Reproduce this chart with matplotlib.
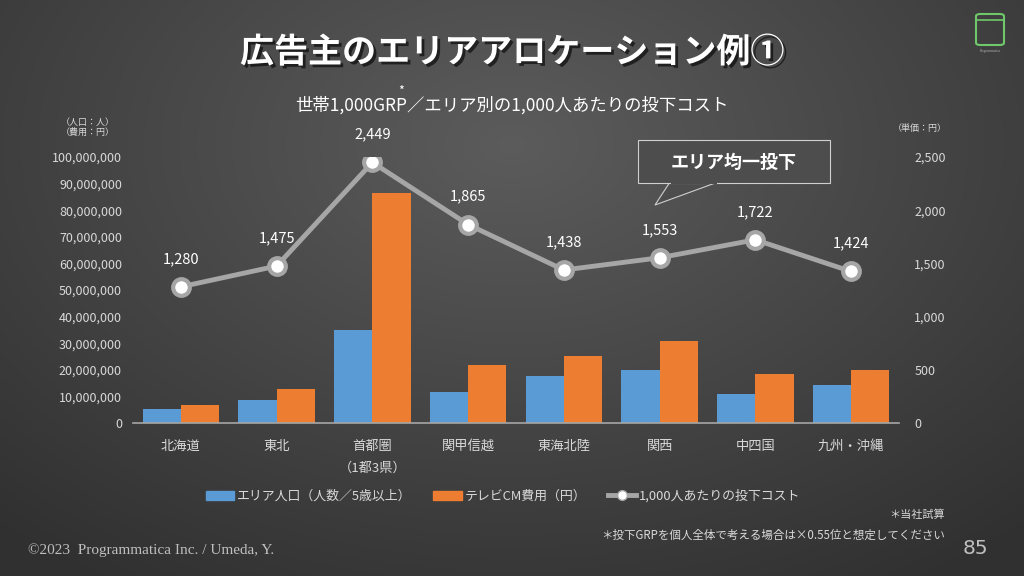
import numpy as np
import matplotlib
matplotlib.use('Agg')
import matplotlib.pyplot as plt
from matplotlib.patches import FancyBboxPatch, Polygon, Rectangle
from matplotlib.lines import Line2D
from matplotlib.patches import Patch
import matplotlib.patheffects as pe
from matplotlib.ticker import FuncFormatter

plt.rcParams['font.family'] = ['Noto Sans CJK JP', 'DejaVu Sans']

# data
areas = ['北海道', '東北', '首都圏', '関甲信越', '東海北陸', '関西', '中四国', '九州・沖縄']
population = [5300000, 8600000, 35000000, 11700000, 17700000, 20000000, 10900000, 14300000]
tv_cost = [6800000, 12800000, 86500000, 21800000, 25200000, 30800000, 18400000, 20000000]
cost_per_1000 = [1280, 1475, 2449, 1865, 1438, 1553, 1722, 1424]

blue = '#5b9bd5'
orange = '#ed7d31'
grey_line = '#a6a6a6'
txt = '#d9d9d9'

fig = plt.figure(figsize=(10.24, 5.76), dpi=100)

# background gradient
bg = fig.add_axes([0, 0, 1, 1], zorder=-10)
yy, xx = np.mgrid[0:1:200j, 0:1:360j]
r = np.sqrt(((xx - 0.5) / 0.75) ** 2 + ((yy - 0.25) / 0.9) ** 2)
shade = 0.36 - 0.17 * np.clip(r, 0, 1)
bg.imshow(np.dstack([shade] * 3), extent=[0, 1, 0, 1], aspect='auto', origin='upper')
bg.set_xlim(0, 1)
bg.set_ylim(0, 1)
bg.axis('off')

ax = fig.add_axes([133 / 1024, 153 / 576, 766 / 1024, 266 / 576])
ax.patch.set_alpha(0)
x = np.arange(len(areas))
w = 0.4
ax.bar(x - w / 2, population, w, color=blue, zorder=2)
ax.bar(x + w / 2, tv_cost, w, color=orange, zorder=2)
ax.set_xlim(-0.5, len(areas) - 0.5)
ax.set_ylim(0, 100000000)
ax.set_yticks(np.arange(0, 100000001, 10000000))
ax.yaxis.set_major_formatter(FuncFormatter(lambda v, p: f'{int(v):,}'))
for s in ['top', 'right', 'left']:
    ax.spines[s].set_visible(False)
ax.spines['bottom'].set_color(grey_line)
ax.spines['bottom'].set_linewidth(1.2)
ax.tick_params(axis='y', length=0, colors=txt, labelsize=9, pad=8)
ax.tick_params(axis='x', length=0, colors=txt, labelsize=9.5, pad=12)
ax.set_xticks(x)
ax.set_xticklabels(areas)
ax.text(2, -0.17, '（1都3県）', transform=ax.get_xaxis_transform(), ha='center', va='center',
        color=txt, fontsize=9.5)

ax2 = ax.twinx()
ax2.set_ylim(0, 2500)
ax2.set_yticks(np.arange(0, 2501, 500))
ax2.yaxis.set_major_formatter(FuncFormatter(lambda v, p: f'{int(v):,}'))
for s in ['top', 'right', 'left', 'bottom']:
    ax2.spines[s].set_visible(False)
ax2.tick_params(axis='y', length=0, colors=txt, labelsize=9, pad=11)
ax2.plot(x, cost_per_1000, color=grey_line, lw=3.5, marker='o', ms=12,
         mfc='white', mec=grey_line, mew=3, zorder=5)
for xi, v in zip(x, cost_per_1000):
    ax2.annotate(f'{v:,}', (xi, v), xytext=(0, 15), textcoords='offset points',
                 ha='center', va='bottom', color='white', fontsize=10.5)

# titles
fig.text(0.5, 1 - 52 / 576, '広告主のエリアアロケーション例①', ha='center', va='center',
         color='white', fontsize=24.5, fontweight='bold',
         path_effects=[pe.withSimplePatchShadow(offset=(2, -2), shadow_rgbFace='black', alpha=0.6)])
fig.text(0.5, 1 - 105 / 576, '世帯1,000GRP／エリア別の1,000人あたりの投下コスト', ha='center', va='center',
         color='white', fontsize=12.5)
fig.text(401 / 1024, 1 - 91 / 576, '*', ha='center', va='center', color='white', fontsize=9)

fig.text(88 / 1024, 1 - 123 / 576, '（人口：人）', ha='center', va='center', color=txt, fontsize=6.5)
fig.text(88 / 1024, 1 - 132 / 576, '（費用：円）', ha='center', va='center', color=txt, fontsize=6.5)
fig.text(920 / 1024, 1 - 128 / 576, '（単価：円）', ha='center', va='center', color=txt, fontsize=6.5)

# callout
fig.patches.append(Polygon([[670 / 1024, 1 - 182 / 576], [655 / 1024, 1 - 205 / 576], [718 / 1024, 1 - 182 / 576]],
                           closed=True, transform=fig.transFigure, facecolor='#4d4d4d',
                           edgecolor='#cfcfcf', lw=0.8, zorder=3))
fig.patches.append(Rectangle((638 / 1024, 1 - 183 / 576), 192 / 1024, 43 / 576, transform=fig.transFigure,
                             facecolor='#4d4d4d', edgecolor='#cfcfcf', lw=0.8, zorder=4))
fig.patches.append(Rectangle((671 / 1024, 1 - 184 / 576), 46 / 1024, 3 / 576, transform=fig.transFigure,
                             facecolor='#4d4d4d', edgecolor='none', zorder=5))
fig.text(734 / 1024, 1 - 162 / 576, 'エリア均一投下', ha='center', va='center', color='white',
         fontsize=13, fontweight='bold', zorder=6)

# legend
handles = [Patch(color=blue, label='エリア人口（人数／5歳以上）'),
           Patch(color=orange, label='テレビCM費用（円）'),
           Line2D([], [], color=grey_line, lw=3.5, marker='o', ms=7, mfc='white', mec=grey_line,
                  label='1,000人あたりの投下コスト')]
fig.legend(handles=handles, loc='center', bbox_to_anchor=(503 / 1024, 1 - 496 / 576), ncol=3,
           frameon=False, fontsize=9.3, labelcolor=txt, handlelength=2.2, handletextpad=0.2,
           columnspacing=1.7)

# notes
fig.text(945 / 1024, 1 - 515 / 576, '＊当社試算', ha='right', va='center', color=txt, fontsize=8)
fig.text(945 / 1024, 1 - 535 / 576, '＊投下GRPを個人全体で考える場合は×0.55位と想定してください',
         ha='right', va='center', color=txt, fontsize=8.3)
fig.text(28 / 1024, 1 - 550 / 576, '©2023  Programmatica Inc. / Umeda, Y.', ha='left', va='center',
         color='#bfbfbf', fontsize=11, family='Liberation Serif')
fig.text(975 / 1024, 1 - 548 / 576, '85', ha='center', va='center', color='#bfbfbf', fontsize=14.5,
         family='DejaVu Sans')

# logo
fig.patches.append(FancyBboxPatch((976 / 1024, 1 - 45 / 576), 28 / 1024, 31 / 576,
                                  boxstyle='round,pad=0,rounding_size=0.004', transform=fig.transFigure,
                                  facecolor='none', edgecolor='#6fc86a', lw=1.5))
fig.lines.append(Line2D([976 / 1024, 1004 / 1024], [1 - 20 / 576, 1 - 20 / 576], transform=fig.transFigure,
                        color='#6fc86a', lw=1.2))
fig.text(990 / 1024, 1 - 51 / 576, 'Programmatica', ha='center', va='center', color='#aaaaaa',
         fontsize=2.5, family='Liberation Serif')

fig.savefig('out.png', dpi=100)
